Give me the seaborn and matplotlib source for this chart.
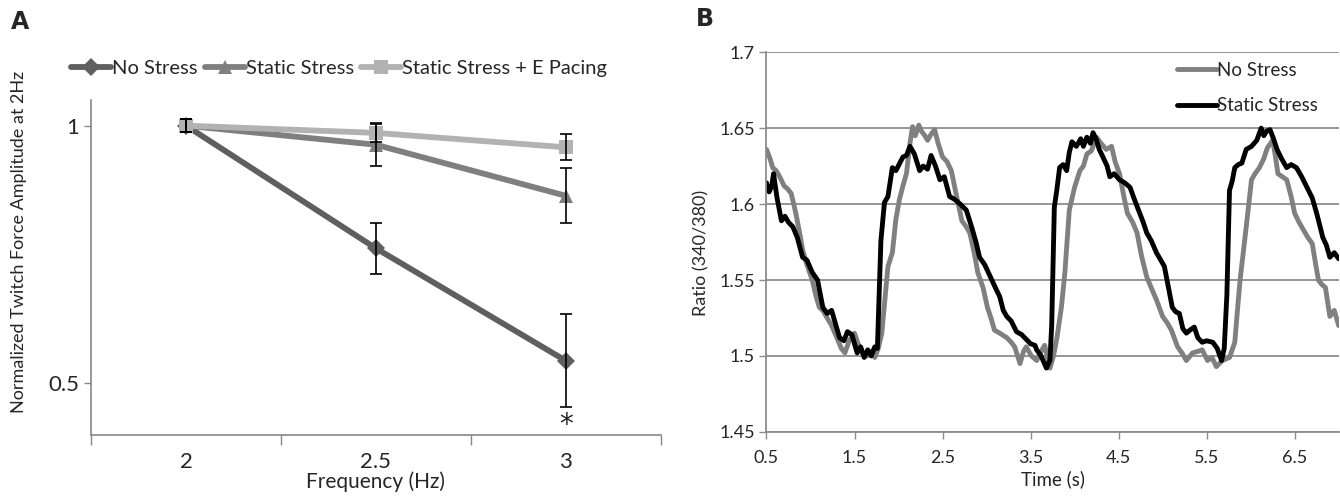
import numpy as np
import pandas as pd
import matplotlib
matplotlib.use("Agg")
import matplotlib.pyplot as plt
import seaborn as sns

# Panel A: twitch force vs pacing frequency
freq = [2.0, 2.5, 3.0]
no_stress = [1.0, 0.762, 0.544]
no_stress_err = [0.012, 0.050, 0.090]
static_stress = [1.0, 0.963, 0.864]
static_stress_err = [0.012, 0.042, 0.053]
pacing = [1.0, 0.986, 0.958]
pacing_err = [0.012, 0.018, 0.025]

# Panel B: Fura-2 ratio traces
t_static = [0.50, 0.53, 0.56, 0.58, 0.62, 0.67, 0.71, 0.75, 0.80, 0.85, 0.91, 0.96, 1.02, 1.08,
            1.14, 1.19, 1.24, 1.29, 1.33, 1.38, 1.42, 1.47, 1.53, 1.57, 1.61, 1.65, 1.69, 1.73,
            1.76, 1.78, 1.80, 1.84, 1.88, 1.93, 1.97, 2.05, 2.09, 2.13, 2.18, 2.24, 2.28, 2.33,
            2.37, 2.42, 2.47, 2.52, 2.58, 2.64, 2.70, 2.77, 2.83, 2.88, 2.92, 2.98, 3.06, 3.10,
            3.15, 3.19, 3.23, 3.28, 3.34, 3.40, 3.45, 3.50, 3.55, 3.57, 3.62, 3.68, 3.72, 3.74,
            3.77, 3.80, 3.83, 3.87, 3.91, 3.94, 3.97, 4.02, 4.07, 4.10, 4.14, 4.18, 4.21, 4.25,
            4.28, 4.33, 4.37, 4.40, 4.45, 4.51, 4.57, 4.63, 4.68, 4.74, 4.78, 4.82, 4.87, 4.93,
            4.98, 5.02, 5.06, 5.11, 5.15, 5.19, 5.23, 5.27, 5.31, 5.36, 5.40, 5.45, 5.50, 5.57,
            5.62, 5.67, 5.70, 5.73, 5.76, 5.79, 5.82, 5.86, 5.90, 5.95, 6.01, 6.07, 6.12, 6.15,
            6.18, 6.22, 6.26, 6.30, 6.35, 6.41, 6.46, 6.52, 6.58, 6.64, 6.70, 6.75, 6.79, 6.82,
            6.86, 6.90, 6.95, 7.00]
r_static = [1.614, 1.608, 1.612, 1.620, 1.604, 1.589, 1.592, 1.588, 1.585, 1.578, 1.565, 1.563, 1.555, 1.550,
            1.532, 1.528, 1.530, 1.520, 1.512, 1.510, 1.516, 1.514, 1.502, 1.506, 1.499, 1.504, 1.500, 1.506,
            1.505, 1.540, 1.576, 1.601, 1.605, 1.624, 1.622, 1.631, 1.632, 1.638, 1.633, 1.622, 1.625, 1.623,
            1.632, 1.625, 1.616, 1.618, 1.605, 1.603, 1.600, 1.596, 1.585, 1.575, 1.565, 1.560, 1.550, 1.545,
            1.539, 1.530, 1.526, 1.523, 1.516, 1.514, 1.511, 1.508, 1.507, 1.504, 1.500, 1.492, 1.497, 1.520,
            1.598, 1.610, 1.624, 1.626, 1.622, 1.634, 1.641, 1.638, 1.643, 1.638, 1.644, 1.640, 1.647, 1.642,
            1.636, 1.630, 1.625, 1.618, 1.620, 1.616, 1.614, 1.611, 1.603, 1.594, 1.588, 1.581, 1.576, 1.568,
            1.563, 1.559, 1.547, 1.532, 1.529, 1.528, 1.518, 1.515, 1.517, 1.519, 1.512, 1.509, 1.510, 1.509,
            1.505, 1.497, 1.505, 1.540, 1.609, 1.615, 1.624, 1.626, 1.627, 1.636, 1.638, 1.642, 1.650, 1.645,
            1.648, 1.649, 1.643, 1.636, 1.630, 1.624, 1.626, 1.624, 1.618, 1.611, 1.604, 1.594, 1.585, 1.578,
            1.573, 1.565, 1.568, 1.564]

t_none = [0.50, 0.54, 0.57, 0.61, 0.65, 0.70, 0.74, 0.78, 0.81, 0.84, 0.88, 0.91, 0.96, 1.02,
          1.06, 1.10, 1.14, 1.18, 1.24, 1.30, 1.35, 1.39, 1.44, 1.50, 1.54, 1.59, 1.64, 1.69,
          1.73, 1.77, 1.81, 1.85, 1.88, 1.93, 1.97, 2.01, 2.05, 2.09, 2.13, 2.16, 2.19, 2.23,
          2.26, 2.30, 2.33, 2.37, 2.41, 2.45, 2.50, 2.55, 2.60, 2.66, 2.72, 2.77, 2.81, 2.86,
          2.90, 2.96, 3.01, 3.05, 3.09, 3.15, 3.23, 3.28, 3.32, 3.38, 3.42, 3.45, 3.51, 3.57,
          3.62, 3.66, 3.72, 3.76, 3.80, 3.85, 3.89, 3.94, 4.00, 4.06, 4.10, 4.14, 4.19, 4.25,
          4.30, 4.36, 4.42, 4.46, 4.51, 4.56, 4.60, 4.66, 4.71, 4.76, 4.82, 4.87, 4.93, 5.00,
          5.05, 5.10, 5.17, 5.22, 5.27, 5.34, 5.40, 5.45, 5.51, 5.56, 5.61, 5.68, 5.76, 5.82,
          5.85, 5.88, 5.92, 5.95, 6.01, 6.05, 6.10, 6.15, 6.19, 6.25, 6.28, 6.31, 6.36, 6.41,
          6.46, 6.50, 6.55, 6.60, 6.65, 6.70, 6.74, 6.77, 6.81, 6.85, 6.90, 6.95, 7.00]
r_none = [1.636, 1.630, 1.624, 1.622, 1.618, 1.612, 1.610, 1.607, 1.600, 1.592, 1.580, 1.570, 1.560, 1.550,
          1.540, 1.532, 1.530, 1.526, 1.520, 1.512, 1.505, 1.502, 1.510, 1.515, 1.508, 1.502, 1.500, 1.503,
          1.499, 1.505, 1.515, 1.540, 1.559, 1.568, 1.590, 1.603, 1.612, 1.620, 1.640, 1.651, 1.645, 1.652,
          1.648, 1.645, 1.642, 1.646, 1.649, 1.640, 1.631, 1.628, 1.622, 1.605, 1.589, 1.585, 1.581, 1.568,
          1.555, 1.545, 1.532, 1.525, 1.517, 1.515, 1.512, 1.509, 1.506, 1.495, 1.503, 1.506, 1.500, 1.497,
          1.503, 1.507, 1.492, 1.500, 1.512, 1.532, 1.555, 1.596, 1.611, 1.622, 1.625, 1.633, 1.635, 1.644,
          1.640, 1.636, 1.638, 1.628, 1.620, 1.605, 1.594, 1.588, 1.581, 1.566, 1.552, 1.545, 1.537, 1.526,
          1.522, 1.517, 1.506, 1.502, 1.497, 1.502, 1.503, 1.504, 1.497, 1.499, 1.493, 1.497, 1.499, 1.509,
          1.530, 1.550, 1.570, 1.585, 1.616, 1.620, 1.624, 1.630, 1.637, 1.642, 1.632, 1.620, 1.618, 1.616,
          1.605, 1.594, 1.588, 1.583, 1.578, 1.574, 1.560, 1.550, 1.547, 1.545, 1.526, 1.530, 1.520]

sns.set_style("white")
plt.rcParams["font.family"] = ["Lato", "DejaVu Sans"]

fig = plt.figure(figsize=(13.4, 4.97), dpi=100)
ax1 = fig.add_axes([0.068, 0.125, 0.425, 0.674])
ax2 = fig.add_axes([0.572, 0.131, 0.427, 0.764])

# ---- Panel A ----
series = [("No Stress", no_stress, no_stress_err, "#5f5f5f", "D"),
          ("Static Stress", static_stress, static_stress_err, "#7f7f7f", "^"),
          ("Static Stress + E Pacing", pacing, pacing_err, "#b2b2b2", "s")]
rows = []
for name, vals, errs, c, m in series:
    for f, v in zip(freq, vals):
        rows.append({"Frequency": f, "Value": v, "Group": name})
df_a = pd.DataFrame(rows)
palette = {s[0]: s[3] for s in series}
markers = {s[0]: s[4] for s in series}
sns.lineplot(data=df_a, x="Frequency", y="Value", hue="Group", style="Group",
             palette=palette, markers=markers, dashes=False, linewidth=4.2,
             markersize=9.5, markeredgewidth=0, ax=ax1, legend=True, zorder=3)
for name, vals, errs, c, m in series:
    ax1.errorbar(freq, vals, yerr=errs, fmt="none", ecolor="black",
                 elinewidth=1.2, capsize=4, capthick=1.2, zorder=4)
ax1.text(3.0, 0.42, "*", ha="center", va="center", fontsize=20, family="DejaVu Sans")

ax1.set_xlim(1.75, 3.25)
ax1.set_ylim(0.4, 1.05)
ax1.set_xticks(freq)
ax1.set_xticklabels(["2", "2.5", "3"])
ax1.set_xticks([1.75, 2.25, 2.75, 3.25], minor=True)
ax1.tick_params(axis="x", which="major", length=0, labelsize=16, pad=12)
ax1.tick_params(axis="x", which="minor", length=7, width=1, color="#868686", direction="out", bottom=True)
ax1.set_yticks([0.5, 1.0])
ax1.set_yticklabels(["0.5", "1"])
ax1.tick_params(axis="y", length=5, width=1, color="#868686", direction="out", left=True, labelsize=16)
ax1.set_xlabel("Frequency (Hz)", fontsize=15, labelpad=0)
ax1.set_ylabel("Normalized Twitch Force Amplitude at 2Hz", fontsize=13)
ax1.yaxis.set_label_coords(-0.112, 0.575)
for side in ["top", "right"]:
    ax1.spines[side].set_visible(False)
for side in ["left", "bottom"]:
    ax1.spines[side].set_color("#868686")
    ax1.spines[side].set_linewidth(1.2)
h, l = ax1.get_legend_handles_labels()
ax1.legend(h, l, loc="lower left", bbox_to_anchor=(-0.05, 1.045), ncol=3, frameon=False,
           fontsize=14.5, handlelength=2.0, handletextpad=0.05, columnspacing=0.35,
           borderaxespad=0)

# ---- Panel B ----
df_b = pd.concat([
    pd.DataFrame({"Time": t_none, "Ratio": r_none, "Group": "No Stress"}),
    pd.DataFrame({"Time": t_static, "Ratio": r_static, "Group": "Static Stress"}),
])
sns.lineplot(data=df_b, x="Time", y="Ratio", hue="Group",
             palette={"No Stress": "#808080", "Static Stress": "#000000"},
             linewidth=3.5, ax=ax2, estimator=None, sort=False)
ax2.set_xlim(0.5, 7.0)
ax2.set_ylim(1.45, 1.7)
ax2.set_xticks([0.5, 1.5, 2.5, 3.5, 4.5, 5.5, 6.5])
ax2.set_xticklabels(["0.5", "1.5", "2.5", "3.5", "4.5", "5.5", "6.5"])
ax2.set_yticks([1.45, 1.5, 1.55, 1.6, 1.65, 1.7])
ax2.set_yticklabels(["1.45", "1.5", "1.55", "1.6", "1.65", "1.7"])
ax2.yaxis.grid(True, color="#8c8c8c", linewidth=1.3)
ax2.set_axisbelow(True)
ax2.tick_params(axis="both", length=5, width=1, color="#8c8c8c", direction="out",
                left=True, bottom=True, labelsize=13)
ax2.tick_params(axis="x", pad=8)
ax2.set_xlabel("Time (s)", fontsize=13.5, labelpad=3)
ax2.set_ylabel("Ratio (340/380)", fontsize=13)
ax2.yaxis.set_label_coords(-0.1, 0.47)
for side in ["top", "right"]:
    ax2.spines[side].set_visible(False)
for side in ["left", "bottom"]:
    ax2.spines[side].set_color("#8c8c8c")
    ax2.spines[side].set_linewidth(1.3)
ax2.legend(loc="upper left", bbox_to_anchor=(0.705, 0.995), frameon=False, fontsize=13.5,
           handlelength=2.1, handletextpad=0.0, labelspacing=1.0, borderaxespad=0)

fig.text(0.008, 0.955, "A", fontsize=17, fontweight="bold", va="center",
         family=["Liberation Sans Narrow", "DejaVu Sans"])
fig.text(0.519, 0.962, "B", fontsize=17, fontweight="bold", va="center",
         family=["Liberation Sans Narrow", "DejaVu Sans"])

fig.savefig("out.png", dpi=100)
